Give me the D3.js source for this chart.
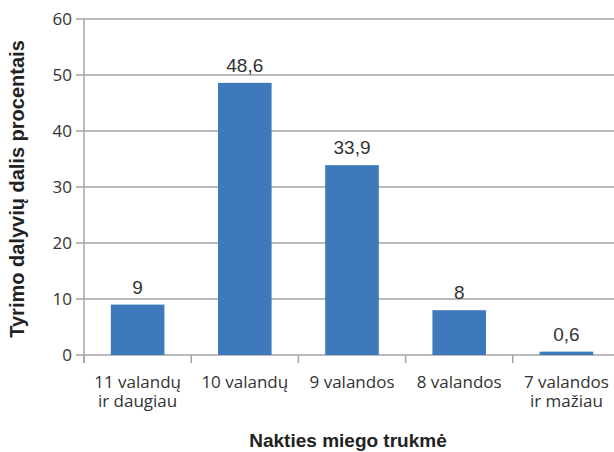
<!DOCTYPE html>
<html>
<head>
<meta charset="utf-8">
<script src="https://cdn.jsdelivr.net/npm/d3@7"></script>
<style>
  html, body { margin: 0; padding: 0; background: #fff; }
  svg { display: block; }
</style>
</head>
<body>
<div id="chart"></div>
<script>
// Nakties miego trukmė — stulpelinė diagrama

const categories = [
  ["11 valandų", "ir daugiau"],
  ["10 valandų"],
  ["9 valandos"],
  ["8 valandos"],
  ["7 valandos", "ir mažiau"]
];
const values = [9, 48.6, 33.9, 8, 0.6];
const valueLabels = ["9", "48,6", "33,9", "8", "0,6"];
const yTicks = [0, 10, 20, 30, 40, 50, 60];

const width = 614;
const height = 452;
const margin = { top: 19, right: -6, bottom: 97, left: 84 };

const svg = d3.select("#chart")
  .append("svg")
  .attr("width", width)
  .attr("height", height);

const x = d3.scaleBand()
  .domain(d3.range(categories.length))
  .range([margin.left, width - margin.right])
  .paddingInner(0.5)
  .paddingOuter(0.25);

const y = d3.scaleLinear()
  .domain([0, 60])
  .range([height - margin.bottom, margin.top]);

const tickFont = "'Open Sans', 'DejaVu Sans', sans-serif";
const titleFont = "'Liberation Sans', Arial, sans-serif";
const gridColor = "#a3a3a3";

// Grille horizontale
svg.append("g")
  .selectAll("line")
  .data(yTicks)
  .join("line")
  .attr("x1", margin.left - 8)
  .attr("x2", width)
  .attr("y1", d => y(d))
  .attr("y2", d => y(d))
  .attr("stroke", gridColor)
  .attr("stroke-width", 1.5);

// Axe Y
svg.append("line")
  .attr("x1", margin.left).attr("x2", margin.left)
  .attr("y1", y(60)).attr("y2", y(0) + 8)
  .attr("stroke", gridColor)
  .attr("stroke-width", 1.5);

svg.append("g")
  .selectAll("text")
  .data(yTicks)
  .join("text")
  .attr("x", margin.left - 12)
  .attr("y", d => y(d))
  .attr("dy", "0.36em")
  .attr("text-anchor", "end")
  .style("font-family", tickFont)
  .style("font-size", "17px")
  .style("fill", "#333")
  .text(d => d);

// Graduations de l'axe X (limites de catégories)
const step = x.step();
const bounds = d3.range(categories.length + 1).map(i => margin.left + i * step);
svg.append("g")
  .selectAll("line")
  .data(bounds)
  .join("line")
  .attr("x1", d => d).attr("x2", d => d)
  .attr("y1", y(0)).attr("y2", y(0) + 8)
  .attr("stroke", gridColor)
  .attr("stroke-width", 1.5);

// Barres
svg.append("g")
  .selectAll("rect")
  .data(values)
  .join("rect")
  .attr("x", (d, i) => x(i))
  .attr("width", x.bandwidth())
  .attr("y", d => y(d))
  .attr("height", d => y(0) - y(d))
  .attr("fill", "#3e79bc");

// Valeurs
svg.append("g")
  .selectAll("text")
  .data(values)
  .join("text")
  .attr("x", (d, i) => x(i) + x.bandwidth() / 2)
  .attr("y", d => y(d) - 11)
  .attr("text-anchor", "middle")
  .style("font-family", titleFont)
  .style("font-size", "19px")
  .style("fill", "#333")
  .text((d, i) => valueLabels[i]);

// Libellés des catégories
const catLabels = svg.append("g")
  .selectAll("text")
  .data(categories)
  .join("text")
  .attr("x", (d, i) => x(i) + x.bandwidth() / 2)
  .attr("y", y(0) + 33)
  .attr("text-anchor", "middle")
  .style("font-family", tickFont)
  .style("font-size", "17px")
  .style("fill", "#333");

catLabels.selectAll("tspan")
  .data(d => d)
  .join("tspan")
  .attr("x", function () { return d3.select(this.parentNode).attr("x"); })
  .attr("dy", (d, j) => j === 0 ? 0 : 19)
  .text(d => d);

// Titres des axes
svg.append("text")
  .attr("transform", `translate(24,189) rotate(-90)`)
  .attr("text-anchor", "middle")
  .style("font-family", titleFont)
  .style("font-size", "20px")
  .style("font-weight", "bold")
  .style("fill", "#222")
  .text("Tyrimo dalyvių dalis procentais");

svg.append("text")
  .attr("x", 348)
  .attr("y", 447)
  .attr("text-anchor", "middle")
  .style("font-family", titleFont)
  .style("font-size", "19px")
  .style("font-weight", "bold")
  .style("fill", "#222")
  .text("Nakties miego trukmė");
</script>
</body>
</html>
